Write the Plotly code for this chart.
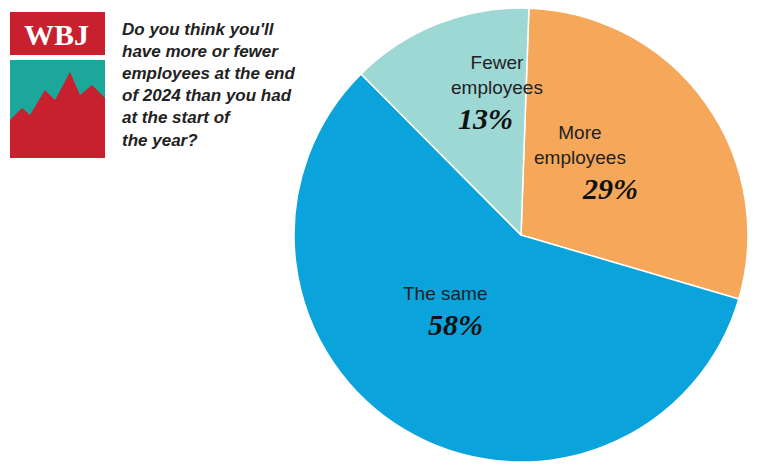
import plotly.graph_objects as go

labels = ["More employees", "The same", "Fewer employees"]
values = [29, 58, 13]
colors = ["#F6A85A", "#0AA3DC", "#9ED8D5"]
W, H = 770, 467
OFF = 8  # page body margin compensation

fig = go.Figure(go.Pie(labels=labels, values=values, sort=False, direction="clockwise",
                       rotation=2, marker=dict(colors=colors, line=dict(color="white", width=1.5)),
                       textinfo="none", hoverinfo="label+percent",
                       domain=dict(x=[(290 - OFF) / W, (752 - OFF) / W], y=[(H - 462 + OFF) / H, 1])))

def px(x, y):
    return (x - OFF) / W, 1 - (y - OFF) / H

ann = [("Fewer<br>employees", "13%", 497, 100, 485, 100),
       ("More<br>employees", "29%", 628, 170, 640, 170),
       ("The same", "58%", 445, 306, 455, 306)]
annotations = []
for lab, pct, lx, ly, qx, qy in ann:
    x, y = px(lx, ly)
    annotations.append(dict(x=x, y=y, xref="paper", yref="paper", text=lab, showarrow=False,
                            yanchor="bottom",
                            font=dict(family="Liberation Sans, Arial", size=19, color="#222")))
    x, y = px(qx, qy)
    annotations.append(dict(x=x, y=y, xref="paper", yref="paper", text="<b><i>%s</i></b>" % pct,
                            showarrow=False, yanchor="top",
                            font=dict(family="Liberation Serif, serif", size=30, color="#111")))
x, y = px(120, 18)
annotations.append(dict(x=x, y=y, xref="paper", yref="paper", xanchor="left", yanchor="top", align="left",
                        text="<b><i>Do you think you'll<br>have more or fewer<br>employees at the end<br>of 2024 than you had<br>at the start of<br>the year?</i></b>",
                        showarrow=False, font=dict(family="Liberation Sans, Arial", size=17, color="#222")))
x, y = px(57, 35)
annotations.append(dict(x=x, y=y, xref="paper", yref="paper", xanchor="center", yanchor="middle",
                        text="<b>WBJ</b>", showarrow=False,
                        font=dict(family="Liberation Serif, serif", size=30, color="white")))

def rect(x0, y0, x1, y1, c):
    a, b = px(x0, y0); cc, d = px(x1, y1)
    return dict(type="rect", xref="paper", yref="paper", x0=a, y0=d, x1=cc, y1=b,
                fillcolor=c, line=dict(width=0), layer="below")

shapes = [rect(10, 12, 105, 55, "#C8202F"), rect(10, 60, 105, 158, "#1BA89A")]
pts = [(10, 120), (22, 108), (30, 115), (45, 90), (55, 100), (70, 72), (80, 95), (92, 85), (105, 98), (105, 158), (10, 158)]
path = "M " + " L ".join("%f,%f" % px(a, b) for a, b in pts) + " Z"
shapes.append(dict(type="path", xref="paper", yref="paper", path=path, fillcolor="#C8202F",
                   line=dict(width=0), layer="below"))

fig.update_layout(width=W, height=H, margin=dict(l=0, r=0, t=0, b=0), showlegend=False,
                  paper_bgcolor="white", annotations=annotations, shapes=shapes)
fig.write_html("out.html")
